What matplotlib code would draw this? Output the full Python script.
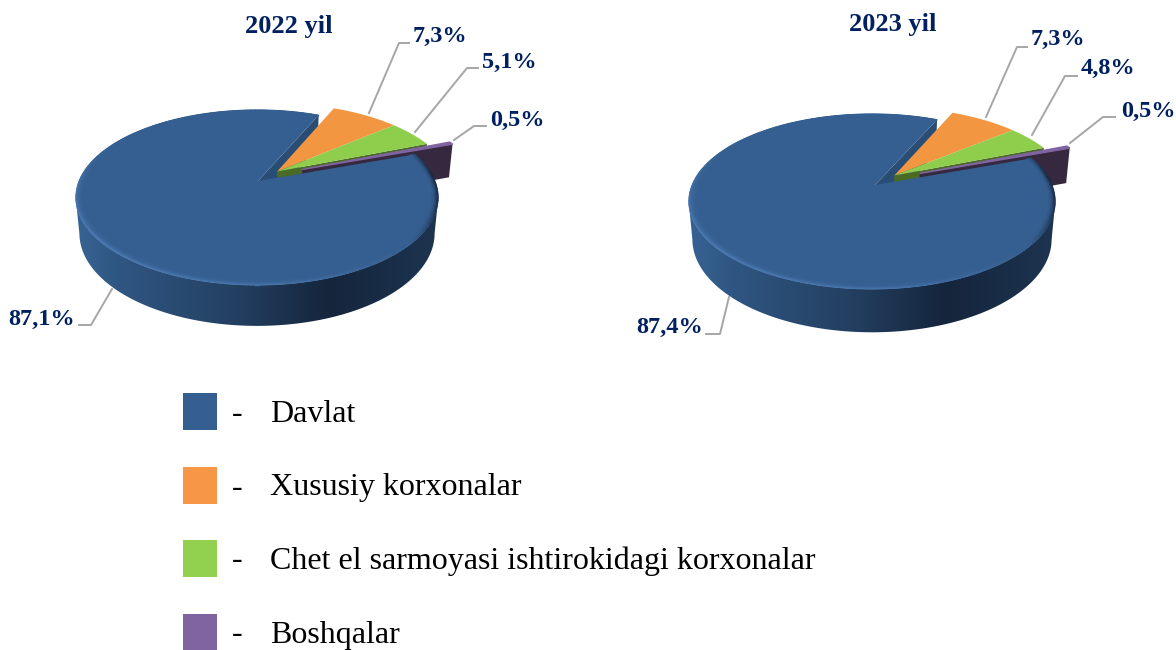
# -*- coding: utf-8 -*-
import numpy as np
import matplotlib
matplotlib.use('Agg')
import matplotlib.pyplot as plt
from matplotlib.collections import LineCollection
from matplotlib.colors import to_rgb
from matplotlib.patches import Rectangle, Polygon

# Data
legend_names = ['Davlat', 'Xususiy korxonalar', 'Chet el sarmoyasi ishtirokidagi korxonalar', 'Boshqalar']
years = ['2022 yil', '2023 yil']
values_2022 = [87.1, 7.3, 5.1, 0.5]
values_2023 = [87.4, 7.3, 4.8, 0.5]

slice_colors = ['#365F91', '#F39642', '#8FCE4C', '#8064A2']
legend_colors = ['#365F91', '#F79646', '#92D050', '#8064A2']
text_color = '#002060'
line_color = '#A6A6A6'
plt.rcParams['font.family'] = ['Liberation Serif', 'DejaVu Serif']

# Pie geometry in pixels
pie_2022 = dict(cx=257, cy=181, a=178, b=84.4, d=36, au=0.0056)
pie_2023 = dict(cx=872, cy=185, a=180, b=84.4, d=38, au=0.0167)
k = 0.189
m = 0.02
first_angle = 70.4
explode_mid = (0.11, 0.115)
explode_small = (0.255, 0.14)

# Label text positions and leader lines, in pixels
labels_2022 = [(42, 319), (440, 36), (509, 62), (517, 120)]
labels_2023 = [(670, 327), (1058, 39), (1108, 68), (1148, 111)]
leaders_2022 = [[(112, 289), (91, 325), (79, 325)],
                [(369, 113), (399, 43), (409, 43)],
                [(415, 132), (467, 68), (478, 68)],
                [(454, 140), (474, 126), (486, 126)]]
leaders_2023 = [[(729, 297), (720, 334), (706, 334)],
                [(986, 117), (1017, 47), (1027, 47)],
                [(1032, 135), (1065, 76), (1077, 76)],
                [(1070, 143), (1103, 117), (1115, 117)]]

fig = plt.figure(figsize=(11.76, 6.5), dpi=100)
ax = fig.add_axes([0, 0, 1, 1])
ax.axis('off')


def project(p, u, v, z=0.0):
    w = 1 + k * np.asarray(v) + m * z
    return p['cx'] + p['a'] * np.asarray(u) / w, p['cy'] + (-p['b'] * np.asarray(v) + p['d'] * z) / w


def rim(phi, off=(0, 0), r=1.0):
    t = np.radians(phi)
    return r * np.sin(t) + off[0], r * np.cos(t) + off[1]


def top_slice(p, a0, a1, off, color, zorder, lw=0):
    phi = np.linspace(a0, a1, 200)
    u, v = rim(phi, off)
    x, y = project(p, np.r_[off[0] + p['au'], u], np.r_[off[1], v])
    ax.fill(x, y, fc=color, ec=color, lw=lw, zorder=zorder)


def wall(p, phi, off, color, zorder):
    u, v = rim(phi, off)
    x0, y0 = project(p, off[0] + p['au'], off[1])
    x1, y1 = project(p, u, v)
    x2, y2 = project(p, u, v, 1)
    x3, y3 = project(p, off[0] + p['au'], off[1], 1)
    ax.fill([x0, x1, x2, x3], [y0, y1, y2, y3], color=color, lw=0, zorder=zorder)


def mix(c1, c2, t):
    return tuple((1 - t) * np.array(to_rgb(c1)) + t * np.array(to_rgb(c2)))


def draw_pie(p, values, title, title_xy, label_xy, leaders):
    blue_end = first_angle + values[0] * 3.6
    green_end = blue_end + (values[1] + values[2]) * 3.6
    orange_end = blue_end + values[1] * 3.6

    # inside wall of the big slice, seen through the gap
    wall(p, blue_end, (0, 0), '#2A4D75', 1)

    # exploded slices
    wall(p, green_end, explode_mid, '#4A6B26', 2)
    top_slice(p, blue_end, orange_end, explode_mid, slice_colors[1], 3)
    top_slice(p, orange_end, green_end, explode_mid, slice_colors[2], 3)

    wall(p, green_end + values[3] * 3.6, explode_small, '#35283F', 4)
    top_slice(p, green_end, green_end + values[3] * 3.6, explode_small, slice_colors[3], 5, lw=1.0)

    # outer wall of the big slice, between the left and right extremes, shaded left to right
    front = np.linspace(101, 259, 200)
    u, v = rim(front)
    x1, y1 = project(p, u, v)
    x2, y2 = project(p, u[::-1], v[::-1], 1)
    outline = Polygon(np.c_[np.r_[x1, x2], np.r_[y1, y2]], closed=True, fc='none', ec='none',
                      transform=ax.transData)
    ax.add_patch(outline)
    wall_x = [0.0, 0.12, 0.45, 0.70, 1.0]
    wall_c = ['#376393', '#2F5682', '#233F60', '#15253C', '#1D3450']
    t = np.linspace(0, 1, 256)
    grad = np.stack([np.interp(t, wall_x, [to_rgb(c)[i] for c in wall_c]) for i in range(3)], axis=-1)
    im = ax.imshow(grad[np.newaxis, :, :], extent=[p['cx'] - p['a'] * 1.02, p['cx'] + p['a'] * 1.02,
                   p['cy'] + 160, p['cy'] - 60], aspect='auto', zorder=6, interpolation='bilinear')
    im.set_clip_path(outline)

    # top of the big slice and its bevel
    top_slice(p, first_angle, blue_end, (0, 0), slice_colors[0], 7)
    phi = np.linspace(first_angle, blue_end, 320)
    bevel_phi = [60, 85, 110, 130, 180, 230, 270, 300, 330]
    bevel_mix = [0.0, 1.0, 0.8, 0.0, -0.7, -0.9, -0.5, 0.0, 0.0]
    rings = [(0.998, 1.0), (0.992, 0.8), (0.986, 0.55), (0.980, 0.35), (0.974, 0.2), (0.968, 0.08)]
    for r, s in rings:
        u, v = rim(phi, r=r)
        x, y = project(p, u, v)
        pts = np.c_[x, y]
        segs = np.stack([pts[:-1], pts[1:]], axis=1)
        cols = []
        for a in 0.5 * (phi[:-1] + phi[1:]) % 360:
            w = np.interp(a, bevel_phi, bevel_mix) * s
            cols.append(mix(slice_colors[0], '#16263E', w) if w > 0 else mix(slice_colors[0], '#4F7FB8', -w))
        ax.add_collection(LineCollection(segs, colors=cols, linewidths=1.0, capstyle='round', zorder=8))

    ax.text(title_xy[0], title_xy[1], title, ha='center', va='center', fontsize=19,
            fontweight='bold', color=text_color, zorder=10)
    for val, xy, pts in zip(values, label_xy, leaders):
        xs, ys = zip(*pts)
        ax.plot(xs, ys, color=line_color, lw=1.4, zorder=9, solid_joinstyle='round')
        ax.text(xy[0], xy[1], f'{val:.1f}%'.replace('.', ','), ha='center', va='center',
                fontsize=17.5, fontweight='bold', color=text_color, zorder=10)


draw_pie(pie_2022, values_2022, years[0], (289, 26), labels_2022, leaders_2022)
draw_pie(pie_2023, values_2023, years[1], (893, 25), labels_2023, leaders_2023)

# Legend
legend_y = [393, 467, 540, 614]
for name, col, y in zip(legend_names, legend_colors, legend_y):
    ax.add_patch(Rectangle((183, y), 34, 37, fc=col, ec='none', zorder=2))
    ax.text(232, y + 21, '-', ha='left', va='center', fontsize=23, color='black')
    ax.text(270, y + 21, name, ha='left', va='center', fontsize=23, color='black')

ax.set_xlim(0, 1176)
ax.set_ylim(650, 0)
plt.savefig('out.png', dpi=100)
